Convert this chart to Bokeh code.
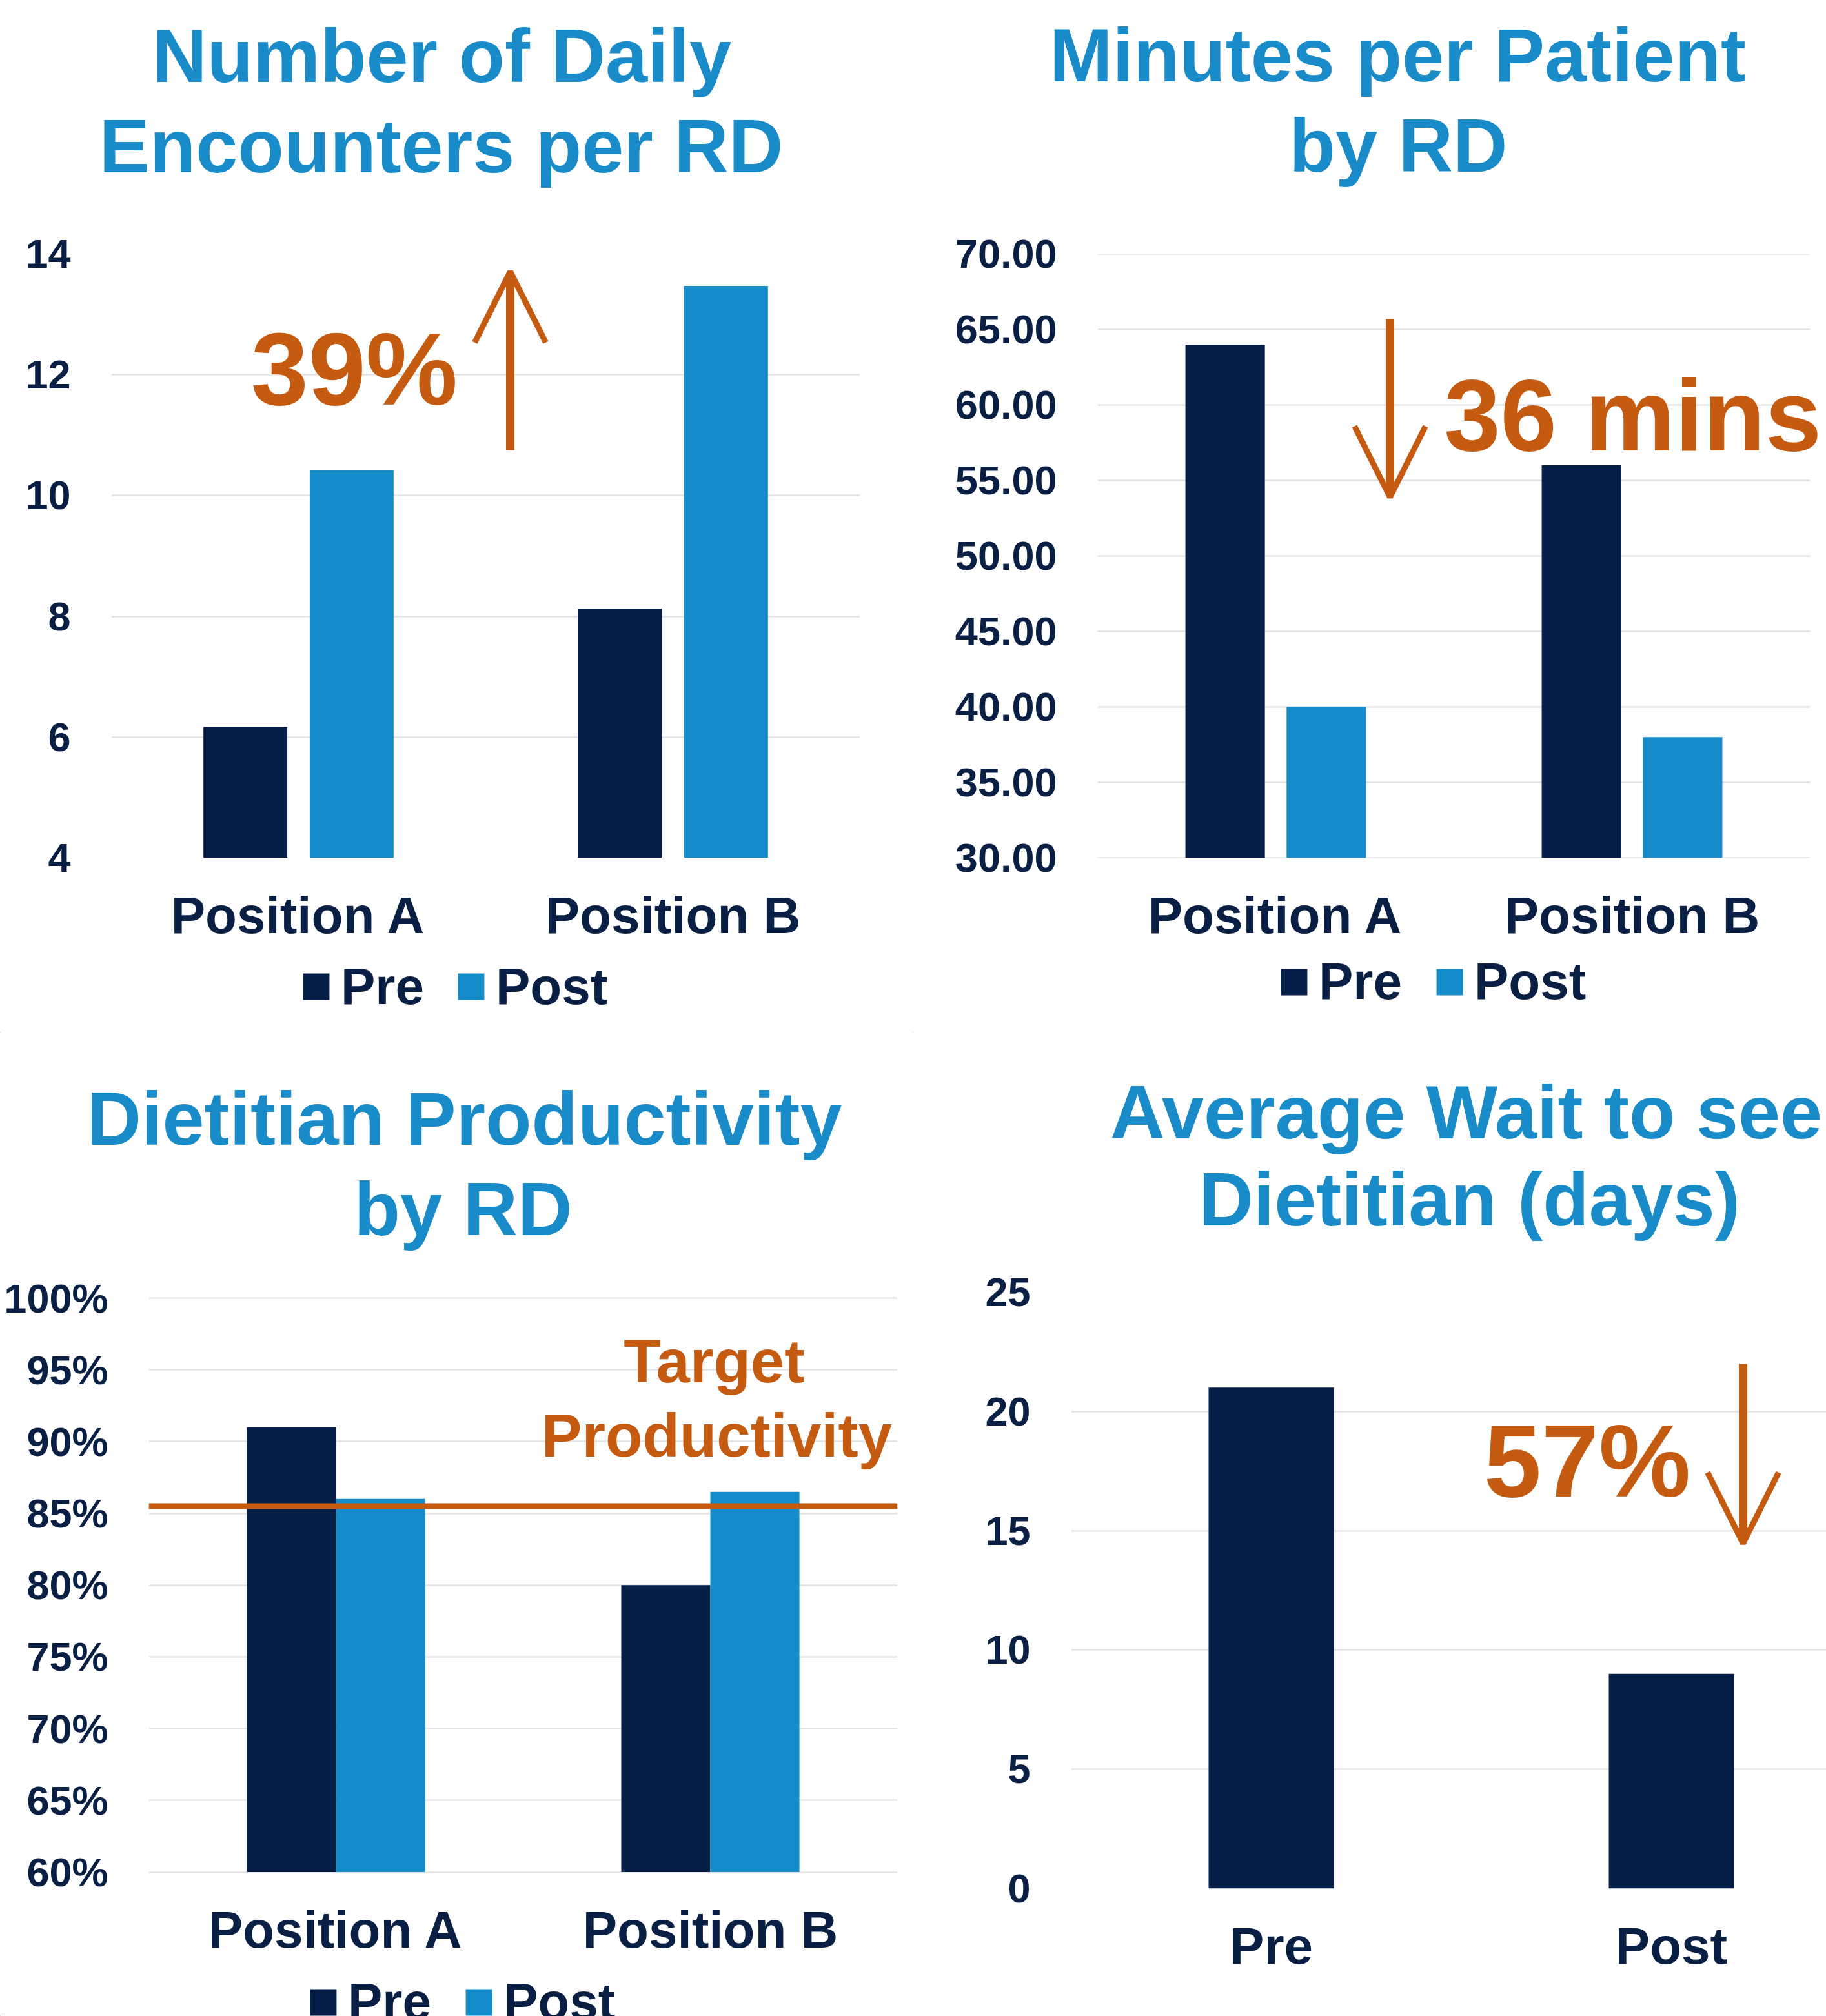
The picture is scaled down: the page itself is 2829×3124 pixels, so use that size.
from bokeh.plotting import figure
from bokeh.models import (Label, Arrow, OpenHead, Legend, LegendItem, FixedTicker,
                          PrintfTickFormatter, Span, Range1d)
from bokeh.layouts import column, row
from bokeh.embed import file_html
from bokeh.resources import INLINE

# ---------------- data ----------------
positions = ["Position A", "Position B"]
series = ["Pre", "Post"]

encounters_title = ["Number of Daily", "Encounters per RD"]
encounters_pre = [6.17, 8.13]
encounters_post = [10.42, 13.47]
encounters_ticks = [4, 6, 8, 10, 12, 14]

minutes_title = ["Minutes per Patient", "by RD"]
minutes_pre = [64.0, 56.0]
minutes_post = [40.0, 38.0]
minutes_ticks = [30, 35, 40, 45, 50, 55, 60, 65, 70]

productivity_title = ["Dietitian Productivity", "by RD"]
productivity_pre = [91.0, 80.0]
productivity_post = [86.0, 86.5]
productivity_target = 85.5
productivity_ticks = [60, 65, 70, 75, 80, 85, 90, 95, 100]

wait_title = ["Average Wait to see", "Dietitian (days)"]
wait_periods = ["Pre", "Post"]
wait_days = [21.0, 9.0]
wait_ticks = [0, 5, 10, 15, 20, 25]

# ---------------- style ----------------
FONT = "Liberation Sans"
NAVY = "#061F48"
BLUE = "#168BC9"
TITLE = "#1A8BC9"
ORANGE = "#C55A11"
TEXT = "#0A1F44"
GRID = "#E3E3E3"

WL, WR = 1414, 1415


def fix(size):
    # shift so that the alphabetic baseline lands where intended
    return 18.4 + 0.273 * size


def strip(w, h):
    p = figure(width=w, height=h, x_range=Range1d(0, w), y_range=Range1d(0, h),
               x_axis_type=None, y_axis_type=None, output_backend="svg",
               toolbar_location=None, min_border_left=0, min_border_right=0,
               min_border_top=0, min_border_bottom=0)
    p.outline_line_color = None
    p.grid.grid_line_color = None
    return p


def title_strip(w, h, lines):
    p = strip(w, h)
    for (txt, cx, base) in lines:
        p.add_layout(Label(x=cx, y=h - base, y_offset=fix(117), text=txt,
                           text_font=FONT, text_font_style="bold", text_font_size="117px",
                           text_color=TITLE, text_align="center", text_baseline="alphabetic"))
    return p


def legend_strip(w, h, x, y, spacing):
    p = strip(w, h)
    # legend swatches; their single bar sits outside the strip's visible range
    rs = [p.vbar(x=[-1000], top=[1], bottom=0, width=1, fill_color=c, line_color=None)
          for c in (NAVY, BLUE)]
    leg = Legend(items=[LegendItem(label=s, renderers=[r]) for s, r in zip(series, rs)],
                 orientation="horizontal", location=(x, y),
                 label_text_font=FONT, label_text_font_style="bold",
                 label_text_font_size="80px", label_text_color=TEXT,
                 glyph_width=51, glyph_height=51, label_standoff=13, spacing=spacing,
                 padding=0, margin=0, border_line_alpha=0, background_fill_alpha=0)
    p.add_layout(leg)
    return p


def base_fig(w, h, left, right, top, bottom, xr, yr, ticks, standoff=38):
    p = figure(width=w, height=h, x_range=xr, y_range=yr,
               output_backend="svg", toolbar_location=None,
               min_border_left=left, min_border_right=right,
               min_border_top=top, min_border_bottom=bottom)
    p.outline_line_color = None
    p.background_fill_color = "white"
    p.border_fill_color = "white"
    p.xgrid.grid_line_color = None
    p.ygrid.grid_line_color = GRID
    p.ygrid.grid_line_width = 2.5
    for ax in (p.xaxis, p.yaxis):
        ax.axis_line_color = None
        ax.major_tick_line_color = None
        ax.minor_tick_line_color = None
        ax.major_label_text_font = FONT
        ax.major_label_text_font_style = "bold"
        ax.major_label_text_color = TEXT
    p.yaxis.ticker = FixedTicker(ticks=ticks)
    p.yaxis.major_label_text_font_size = "63px"
    p.yaxis.major_label_standoff = 57
    p.xaxis.major_label_text_font_size = "80px"
    p.xaxis.major_label_standoff = standoff
    return p


def add_note(p, txt, x, y, size):
    p.add_layout(Label(x=x, y=y, y_offset=fix(size), text=txt, text_font=FONT,
                       text_font_style="bold", text_font_size="%dpx" % size,
                       text_color=ORANGE, text_align="center", text_baseline="alphabetic"))


def add_arrow(p, x, y0, y1):
    p.add_layout(Arrow(end=OpenHead(size=110, line_color=ORANGE, line_width=9),
                       x_start=x, y_start=y0, x_end=x, y_end=y1,
                       line_color=ORANGE, line_width=13))


def grouped(p, pre, post, base, width, off):
    idx = list(range(len(positions)))
    p.vbar(x=[i - off for i in idx], top=pre, bottom=base, width=width,
           fill_color=NAVY, line_color=None)
    p.vbar(x=[i + off for i in idx], top=post, bottom=base, width=width,
           fill_color=BLUE, line_color=None)
    p.xaxis.ticker = FixedTicker(ticks=idx)
    p.xaxis.major_label_overrides = {i: positions[i] for i in idx}


# ---------------- top row ----------------
T_TOP, C_TOP, L_TOP = 330, 1139, 131      # strip heights (title / chart / legend)
FT, FH = 63, 936                           # frame offset and height in chart figure

t1 = title_strip(WL, T_TOP, [(encounters_title[0], 684, 136), (encounters_title[1], 683, 276)])
p1 = base_fig(WL, C_TOP, 172, 82, FT, C_TOP - FT - FH, Range1d(-0.5, 1.5),
              Range1d(encounters_ticks[0], encounters_ticks[-1]), encounters_ticks)
grouped(p1, encounters_pre, encounters_post, encounters_ticks[0], 0.224, 0.142)
add_note(p1, "39%", 0.149, 11.44, 160)
add_arrow(p1, 0.5655, 10.75, 13.71)
l1 = legend_strip(WL, L_TOP, 464, 25.5, 47)

t2 = title_strip(WR, T_TOP, [(minutes_title[0], 751, 135), (minutes_title[1], 752, 275)])
p2 = base_fig(WR, C_TOP, 286, 0, FT, C_TOP - FT - FH, Range1d(-0.5, 1.5 + 25 / 552),
              Range1d(minutes_ticks[0], minutes_ticks[-1]), minutes_ticks)
p2.yaxis.formatter = PrintfTickFormatter(format="%.2f")
# the frame runs to the page edge for the note; gridlines stop at the category area
p2.ygrid.grid_line_color = None
p2.segment(x0=-0.5, x1=1.5, y0=minutes_ticks, y1=minutes_ticks,
           line_color=GRID, line_width=2.5, level="underlay")
grouped(p2, minutes_pre, minutes_post, minutes_ticks[0], 0.223, 0.142)
add_note(p2, "36 mins", 1.002, 56.71, 157)
add_arrow(p2, 0.3207, 65.68, 53.89)
l2 = legend_strip(WR, L_TOP, 565, 33, 48)

# ---------------- bottom row ----------------
T_BOT, C_BOT, L_BOT = 360, 1106, 58
BT, BH = 42, 924                           # common frame for the bottom row

# productivity chart: its 60%..100% span is 889.5 px, placed inside the common frame
px_per = 889.5 / (productivity_ticks[-1] - productivity_ticks[0])
prod_range = Range1d(productivity_ticks[0] - 25.5 / px_per, productivity_ticks[-1] + 9 / px_per)

t3 = title_strip(WL, T_BOT, [(productivity_title[0], 719, 183), (productivity_title[1], 717, 323)])
p3 = base_fig(WL, C_BOT, 230, 24, BT, C_BOT - BT - BH, Range1d(-0.5, 1.5),
              prod_range, productivity_ticks, standoff=13)
p3.yaxis.formatter = PrintfTickFormatter(format="%d%%")
grouped(p3, productivity_pre, productivity_post, productivity_ticks[0], 0.238, 0.119)
p3.add_layout(Span(location=productivity_target, dimension="width",
                   line_color=ORANGE, line_width=9))
add_note(p3, "Target", 1.010, 93.61, 94)
add_note(p3, "Productivity", 1.017, 88.44, 94)
l3 = legend_strip(WL, L_BOT, 475, -24, 48)

t4 = title_strip(WR, T_BOT, [(wait_title[0], 857, 173), (wait_title[1], 862, 308)])
p4 = base_fig(WR, C_BOT, 245, 0, BT, C_BOT - BT - BH, Range1d(-0.5, 1.387),
              Range1d(wait_ticks[0], wait_ticks[-1]), wait_ticks)
widx = list(range(len(wait_periods)))
p4.vbar(x=widx, top=wait_days, bottom=wait_ticks[0], width=0.313,
        fill_color=NAVY, line_color=None)
p4.xaxis.ticker = FixedTicker(ticks=widx)
p4.xaxis.major_label_overrides = {i: wait_periods[i] for i in widx}
add_note(p4, "57%", 0.7895, 16.26, 160)
add_arrow(p4, 1.179, 22.0, 14.47)
l4 = strip(WR, L_BOT)

layout = column(row(t1, t2), row(p1, p2), row(l1, l2),
                row(t3, t4), row(p3, p4), row(l3, l4))
open("out.html", "w").write(file_html(layout, INLINE))
